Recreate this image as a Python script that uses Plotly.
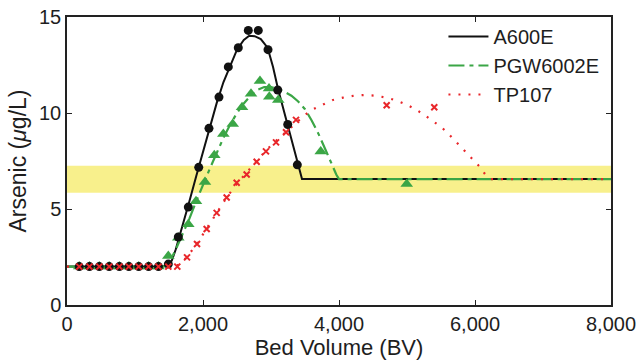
import plotly.graph_objects as go

# ---- data ----
base_x = [180, 330, 475, 620, 770, 910, 1055, 1200, 1345]

a600e_x = base_x + [1490, 1637, 1784, 1937, 2088, 2235, 2372, 2519, 2666, 2813, 2956, 3099, 3246, 3387]
a600e_y = [2.0]*9 + [2.13, 3.54, 5.1, 7.17, 9.2, 10.83, 12.4, 13.4, 14.3, 14.3, 13.3, 11.2, 9.4, 7.3]

pgw_x = base_x + [1490, 1637, 1784, 1897, 2029, 2166, 2299, 2437, 2574, 2706, 2838, 2971, 2975, 3107, 3731, 4996]
pgw_y = [2.0]*9 + [2.55, 3.5, 4.2, 5.4, 6.4, 7.8, 8.9, 9.43, 10.3, 11.0, 11.67, 11.28, 10.85, 10.68, 8.0, 6.3]

tp_x = base_x + [1490, 1622, 1765, 1912, 2054, 2201, 2348, 2495, 2642, 2789, 2926, 3074, 3221, 3368, 4701, 5401]
tp_y = [2.0]*11 + [2.48, 3.18, 3.96, 4.8, 5.6, 6.37, 6.8, 7.46, 8.0, 8.47, 9.0, 9.64, 10.4, 10.3]

# fitted model curves
a600e_fit_x = [0, 1400, 1480, 1540, 1600, 1700, 1800, 1900, 2000, 2100, 2200, 2300, 2400, 2500, 2600,
               2680, 2760, 2850, 2950, 3030, 3100, 3175, 3250, 3320, 3390, 3456, 8000]
a600e_fit_y = [2.0, 2.0, 2.05, 2.3, 2.9, 4.1, 5.4, 6.7, 8.0, 9.3, 10.5, 11.6, 12.5, 13.3, 13.8,
               14.02, 14.0, 13.85, 13.4, 12.4, 11.3, 10.3, 9.3, 8.3, 7.3, 6.56, 6.56]

pgw_fit_x = [0, 1420, 1480, 1540, 1600, 1700, 1800, 1900, 2000, 2100, 2200, 2300, 2400, 2500, 2600,
             2700, 2800, 2900, 3000, 3100, 3200, 3300, 3400, 3500, 3600, 3700, 3800, 3900, 3960, 4000, 8000]
pgw_fit_y = [2.0, 2.0, 2.1, 2.45, 2.9, 3.7, 4.5, 5.4, 6.3, 7.1, 7.9, 8.7, 9.4, 10.0, 10.5,
             10.9, 11.2, 11.35, 11.35, 11.25, 11.1, 10.9, 10.6, 10.2, 9.6, 8.9, 8.1, 7.25, 6.8, 6.56, 6.56]

tp_fit_x = [0, 1550, 1650, 1765, 1912, 2054, 2201, 2348, 2495, 2642, 2789, 2926, 3074, 3221, 3368,
            3500, 3618, 3765, 3912, 4059, 4220, 4382, 4544, 4700, 4848, 4985, 5127, 5254, 5387,
            5510, 5622, 5730, 5838, 5951, 6059, 6147, 6230, 8000]
tp_fit_y = [2.0, 2.0, 2.1, 2.5, 3.2, 4.0, 4.8, 5.6, 6.3, 6.9, 7.5, 8.05, 8.55, 9.0, 9.5,
            9.9, 10.2, 10.45, 10.68, 10.8, 10.9, 10.94, 10.9, 10.8, 10.65, 10.45, 10.19, 9.9, 9.58,
            9.25, 8.87, 8.47, 8.07, 7.64, 7.24, 6.82, 6.56, 6.56]

band_y = [5.85, 7.25]
x_range = [0, 8000]
y_range = [0, 15]
x_ticks = [0, 2000, 4000, 6000, 8000]
x_ticklabels = ["0", "2,000", "4,000", "6,000", "8,000"]
y_ticks = [0, 5, 10, 15]

BLACK = "#111111"
GREEN = "#3BA646"
RED = "#E8262A"
TXT = "#1e1e1e"
FONT = "Liberation Sans, Arial, Helvetica, sans-serif"

fig = go.Figure()

fig.add_shape(type="rect", xref="x", yref="y", x0=x_range[0], x1=x_range[1],
              y0=band_y[0], y1=band_y[1], fillcolor="#F8F08C", line_width=0, layer="below")

# lines (legend)
fig.add_trace(go.Scatter(x=a600e_fit_x, y=a600e_fit_y, mode="lines", name="A600E",
                         line=dict(color=BLACK, width=2)))
fig.add_trace(go.Scatter(x=pgw_fit_x, y=pgw_fit_y, mode="lines", name="PGW6002E",
                         line=dict(color=GREEN, width=2.2, dash="16px,5px,4px,5px")))
fig.add_trace(go.Scatter(x=tp_fit_x, y=tp_fit_y, mode="lines", name="TP107",
                         line=dict(color=RED, width=2.2, dash="2px,8px")))

# markers: triangles, then circles, then crosses on top
fig.add_trace(go.Scatter(x=pgw_x, y=pgw_y, mode="markers", showlegend=False,
                         marker=dict(symbol="triangle-up", size=11, color=GREEN, line_width=0)))
fig.add_trace(go.Scatter(x=a600e_x, y=a600e_y, mode="markers", showlegend=False,
                         marker=dict(symbol="circle", size=9, color=BLACK, line_width=0)))
fig.add_trace(go.Scatter(x=tp_x, y=tp_y, mode="markers", showlegend=False,
                         marker=dict(symbol="x-thin", size=6, color=RED,
                                     line=dict(color=RED, width=2))))

axis_common = dict(showline=True, linecolor="#222222", linewidth=1.5, mirror="ticks",
                   ticks="inside", ticklen=5, tickwidth=1.2, tickcolor="#222222",
                   showgrid=False, zeroline=False, ticklabeloverflow="allow",
                   tickfont=dict(family=FONT, size=20, color=TXT))

fig.update_xaxes(range=x_range, tickvals=x_ticks, ticktext=x_ticklabels,
                 title=dict(text="Bed Volume (BV)", font=dict(family=FONT, size=22, color=TXT),
                            standoff=1),
                 **axis_common)
fig.update_yaxes(range=y_range, tickvals=y_ticks,
                 title=dict(text="Arsenic (<i>μ</i>g/L)", font=dict(family=FONT, size=23, color=TXT),
                            standoff=6),
                 **axis_common)

fig.update_layout(
    width=636, height=362,
    margin=dict(l=67, r=25, t=17, b=57, autoexpand=False),
    plot_bgcolor="white", paper_bgcolor="white",
    font=dict(family=FONT, color=TXT),
    legend=dict(x=0.692, y=1.0, xanchor="left", yanchor="top",
                bgcolor="rgba(0,0,0,0)", font=dict(family=FONT, size=20, color=TXT),
                tracegroupgap=0, itemwidth=40),
)

fig.write_html("out.html")
